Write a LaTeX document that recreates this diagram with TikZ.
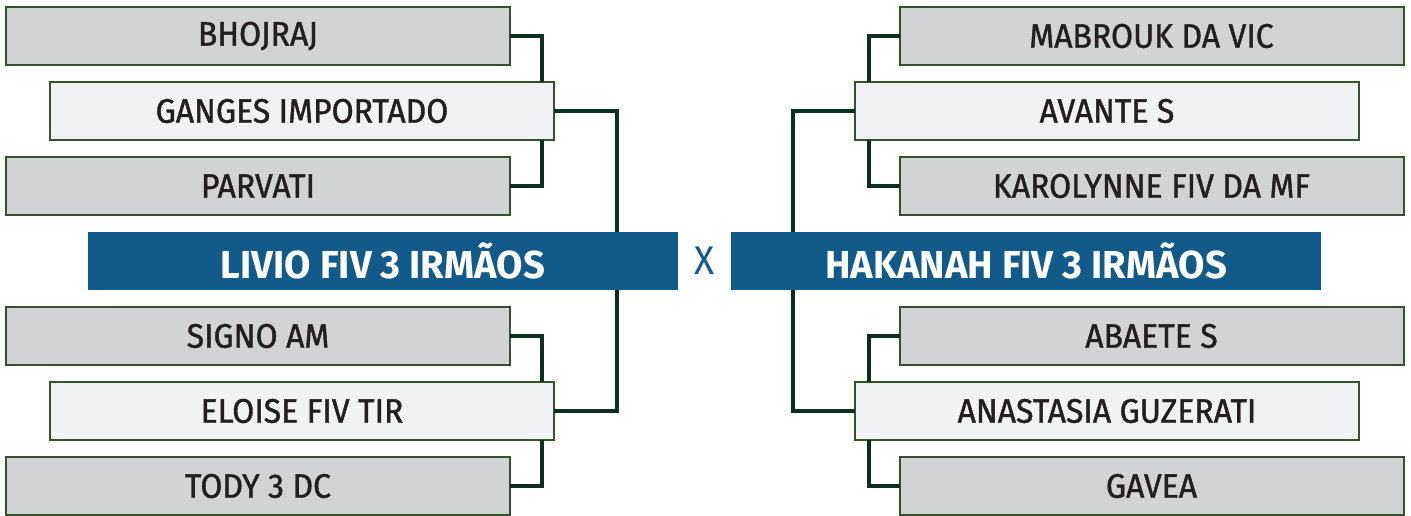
\documentclass[tikz,border=0pt]{standalone}
\usepackage{fontspec}
\setmainfont{Fira Sans}[FakeStretch=0.93]
\newfontfamily\namefont{Fira Sans}[FakeStretch=0.94, FakeBold=1.2]
\newfontfamily\bannerfont{Fira Sans}[FakeStretch=0.98]
\usetikzlibrary{positioning,calc}

\definecolor{seedgray}{HTML}{D1D3D4}
\definecolor{picklight}{HTML}{F1F2F3}
\definecolor{boxedge}{HTML}{35522D}
\definecolor{linkgreen}{HTML}{0E2E1E}
\definecolor{bannerblue}{HTML}{125A8A}
\definecolor{nametext}{HTML}{231F20}

\tikzset{
  namebox/.style={draw=boxedge, line width=2pt, rectangle, inner sep=0pt, outer sep=0pt,
    minimum width=504pt, minimum height=58pt, text=nametext, font=\namefont\fontsize{34}{36}\selectfont},
  seedbox/.style={namebox, fill=seedgray},
  pickbox/.style={namebox, fill=picklight},
  banner/.style={rectangle, fill=bannerblue, inner sep=0pt, outer sep=0pt,
    minimum width=590pt, minimum height=58pt, text=white, font=\bannerfont\fontsize{39}{42}\selectfont\bfseries},
  link/.style={draw=linkgreen, line width=4pt}
}

\begin{document}
\begin{tikzpicture}[x=1pt, y=1pt]
    \useasboundingbox (0,0) rectangle (1411,-515);
    \clip (0,0) rectangle (1411,-515);

    % left side
    \node [seedbox] (bhojraj) at (258,-36) {BHOJRAJ};
    \node [pickbox, below=17pt of bhojraj, xshift=44pt] (ganges) {GANGES IMPORTADO};
    \node [seedbox, below=17pt of ganges, xshift=-44pt] (parvati) {PARVATI};
    \node [banner, below=17pt of parvati, xshift=125pt] (livio) {LIVIO FIV 3 IRMÃOS};
    \node [seedbox, below=17pt of livio, xshift=-125pt] (signo) {SIGNO AM};
    \node [pickbox, below=17pt of signo, xshift=44pt] (eloise) {ELOISE FIV TIR};
    \node [seedbox, below=17pt of eloise, xshift=-44pt] (tody) {TODY 3 DC};

    % right side
    \node [seedbox] (mabrouk) at (1151.5,-36) {MABROUK DA VIC};
    \node [pickbox, below=17pt of mabrouk, xshift=-44.5pt] (avante) {AVANTE S};
    \node [seedbox, below=17pt of avante, xshift=44.5pt] (karolynne) {KAROLYNNE FIV DA MF};
    \node [banner, below=17pt of karolynne, xshift=-125.5pt] (hakanah) {HAKANAH FIV 3 IRMÃOS};
    \node [seedbox, below=17pt of hakanah, xshift=125.5pt] (abaete) {ABAETE S};
    \node [pickbox, below=17pt of abaete, xshift=-44.5pt] (anastasia) {ANASTASIA GUZERATI};
    \node [seedbox, below=17pt of anastasia, xshift=44.5pt] (gavea) {GAVEA};

    \node [text=bannerblue, inner sep=0pt, font=\fontsize{40}{42}\selectfont]
      (versus) at ($(livio.east)!0.5!(hakanah.west)$) {X};

    \draw [link] (bhojraj.east) -| ([xshift=-12pt]ganges.north east);
    \draw [link] (parvati.east) -| ([xshift=-12pt]ganges.south east);
    \draw [link] (ganges.east) -| ([xshift=-61pt]livio.north east);
    \draw [link] (signo.east) -| ([xshift=-12pt]eloise.north east);
    \draw [link] (tody.east) -| ([xshift=-12pt]eloise.south east);
    \draw [link] (eloise.east) -| ([xshift=-61pt]livio.south east);

    \draw [link] (mabrouk.west) -| ([xshift=14pt]avante.north west);
    \draw [link] (karolynne.west) -| ([xshift=14pt]avante.south west);
    \draw [link] (avante.west) -| ([xshift=62pt]hakanah.north west);
    \draw [link] (abaete.west) -| ([xshift=14pt]anastasia.north west);
    \draw [link] (gavea.west) -| ([xshift=14pt]anastasia.south west);
    \draw [link] (anastasia.west) -| ([xshift=62pt]hakanah.south west);

\end{tikzpicture}
\end{document}
